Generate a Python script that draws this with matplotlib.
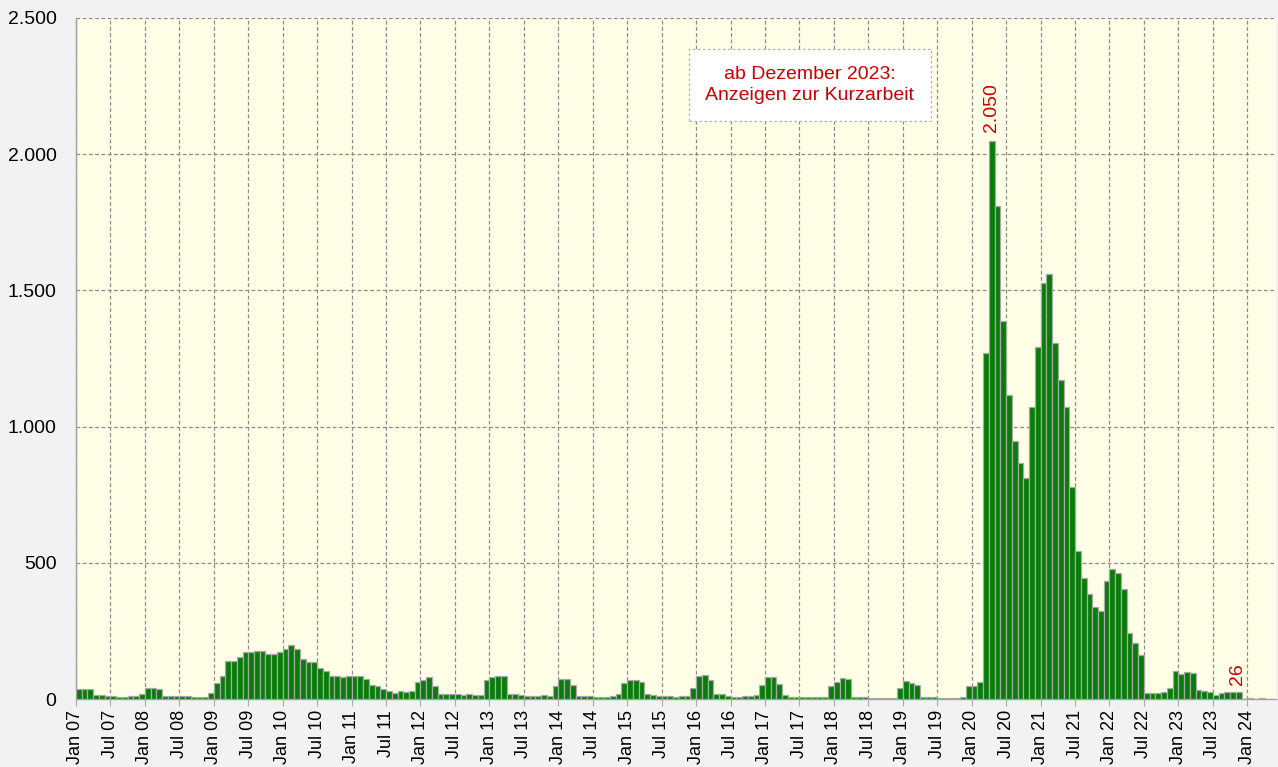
import numpy as np
import matplotlib
matplotlib.use("Agg")
import matplotlib.pyplot as plt
from matplotlib.ticker import FuncFormatter, FixedLocator

plt.rcParams['font.family'] = ['Liberation Sans', 'DejaVu Sans']

# ---- data -------------------------------------------------------------
start_year = 2007
# realised values, Jan 2007 .. Nov 2023 (green)
v2007 = [37, 35, 36, 14, 13, 12, 10, 8, 8, 12, 12, 20]
v2008 = [41, 41, 35, 12, 12, 12, 12, 12, 9, 6, 6, 23]
v2009 = [57, 86, 138, 138, 156, 173, 173, 178, 178, 167, 167, 171]
v2010 = [184, 197, 182, 148, 134, 134, 115, 102, 86, 86, 80, 83]
v2011 = [86, 86, 74, 50, 46, 35, 30, 23, 28, 24, 28, 64]
v2012 = [69, 79, 49, 20, 20, 17, 20, 13, 17, 13, 13, 68]
v2013 = [80, 86, 86, 20, 18, 15, 12, 12, 12, 15, 12, 47]
v2014 = [75, 75, 50, 12, 12, 12, 9, 9, 9, 12, 18, 58]
v2015 = [68, 68, 61, 17, 13, 12, 12, 11, 8, 12, 12, 42]
v2016 = [83, 89, 68, 20, 17, 12, 8, 8, 12, 12, 15, 53]
v2017 = [79, 79, 56, 13, 9, 8, 8, 7, 7, 6, 6, 47]
v2018 = [63, 77, 73, 6, 6, 6, 2, 2, 2, 2, 2, 41]
v2019 = [67, 58, 50, 7, 7, 6, 3, 3, 3, 4, 6, 46]
v2020 = [48, 64, 1270, 2050, 1809, 1386, 1115, 947, 867, 810, 1071, 1293]
v2021 = [1527, 1559, 1307, 1171, 1071, 777, 544, 446, 384, 339, 324, 435]
v2022 = [477, 463, 405, 243, 207, 161, 21, 21, 21, 27, 39, 103]
v2023 = [93, 98, 94, 32, 28, 26, 16, 21, 27, 26, 26]
green_values = (v2007 + v2008 + v2009 + v2010 + v2011 + v2012 + v2013 + v2014 +
                v2015 + v2016 + v2017 + v2018 + v2019 + v2020 + v2021 + v2022 + v2023)

# Anzeigen zur Kurzarbeit, Dec 2023 .. Mar 2024 (red)
red_values = [0, 5, 0, 4]

n_months_axis = 209
month_names = ["Jan", "Jul"]
tick_labels = []
for y in range(start_year, 2025):
    for m in month_names:
        tick_labels.append(f"{m} {y % 100:02d}")
tick_labels = tick_labels[:35]  # Jan 07 .. Jan 24

peak_label = "2.050"
last_label = "26"
note_text = "ab Dezember 2023:\nAnzeigen zur Kurzarbeit"

# ---- figure -----------------------------------------------------------
W, H = 1278, 767
fig = plt.figure(figsize=(W / 100, H / 100), dpi=100, facecolor="#f2f2f2")
ax = fig.add_axes([76 / W, 68 / H, 1200 / W, 681 / H])
ax.set_facecolor("#ffffe8")

xg = np.arange(len(green_values))
ax.bar(xg, green_values, width=1.0, align="edge", color="#067d06",
       edgecolor="#a8a8a8", linewidth=0.9, zorder=3)
xr = np.arange(len(green_values), len(green_values) + len(red_values))
ax.bar(xr, red_values, width=1.0, align="edge", color="#e06060",
       edgecolor="#c0a0a0", linewidth=0.9, zorder=3)

ax.set_xlim(0, n_months_axis)
ax.set_ylim(0, 2500)

ax.xaxis.set_major_locator(FixedLocator(np.arange(0, 6 * len(tick_labels), 6)))
ax.set_xticklabels(tick_labels, rotation=90, fontsize=13)
ax.set_yticks(np.arange(0, 2501, 500))
ax.yaxis.set_major_formatter(FuncFormatter(lambda v, p: f"{int(v):,}".replace(",", ".")))
ax.tick_params(axis="y", length=0, labelsize=14, pad=14)
ax.tick_params(axis="x", length=5, color="#aaaaaa", pad=3)

ax.grid(True, color="#8a8a8a", linestyle=(0, (3, 2)), linewidth=0.9, zorder=1)
ax.set_axisbelow(True)
for s in ["top", "right"]:
    ax.spines[s].set_visible(False)
for s in ["left", "bottom"]:
    ax.spines[s].set_color("#a0a0a0")
    ax.spines[s].set_linewidth(1.0)

# value labels
i_peak = int(np.argmax(green_values))
ax.annotate(peak_label, (i_peak + 0.5, green_values[i_peak]), xytext=(0, 6),
            textcoords="offset points", rotation=90, ha="center", va="bottom",
            color="#cc0000", fontsize=14, zorder=5)
i_last = len(green_values) - 1
ax.annotate(last_label, (i_last + 0.5, green_values[i_last]), xytext=(-1, 5),
            textcoords="offset points", rotation=90, ha="center", va="bottom",
            color="#cc0000", fontsize=14, zorder=5)

# note box
ax.text(127.8, 2254, note_text, ha="center", va="center", color="#cc0000",
        fontsize=14, linespacing=1.35, zorder=6,
        bbox=dict(boxstyle="square,pad=0.85", facecolor="white",
                  edgecolor="#b0b0b0", linestyle=(0, (2, 2)), linewidth=0.9))

fig.savefig("out.png", dpi=100, facecolor=fig.get_facecolor())
